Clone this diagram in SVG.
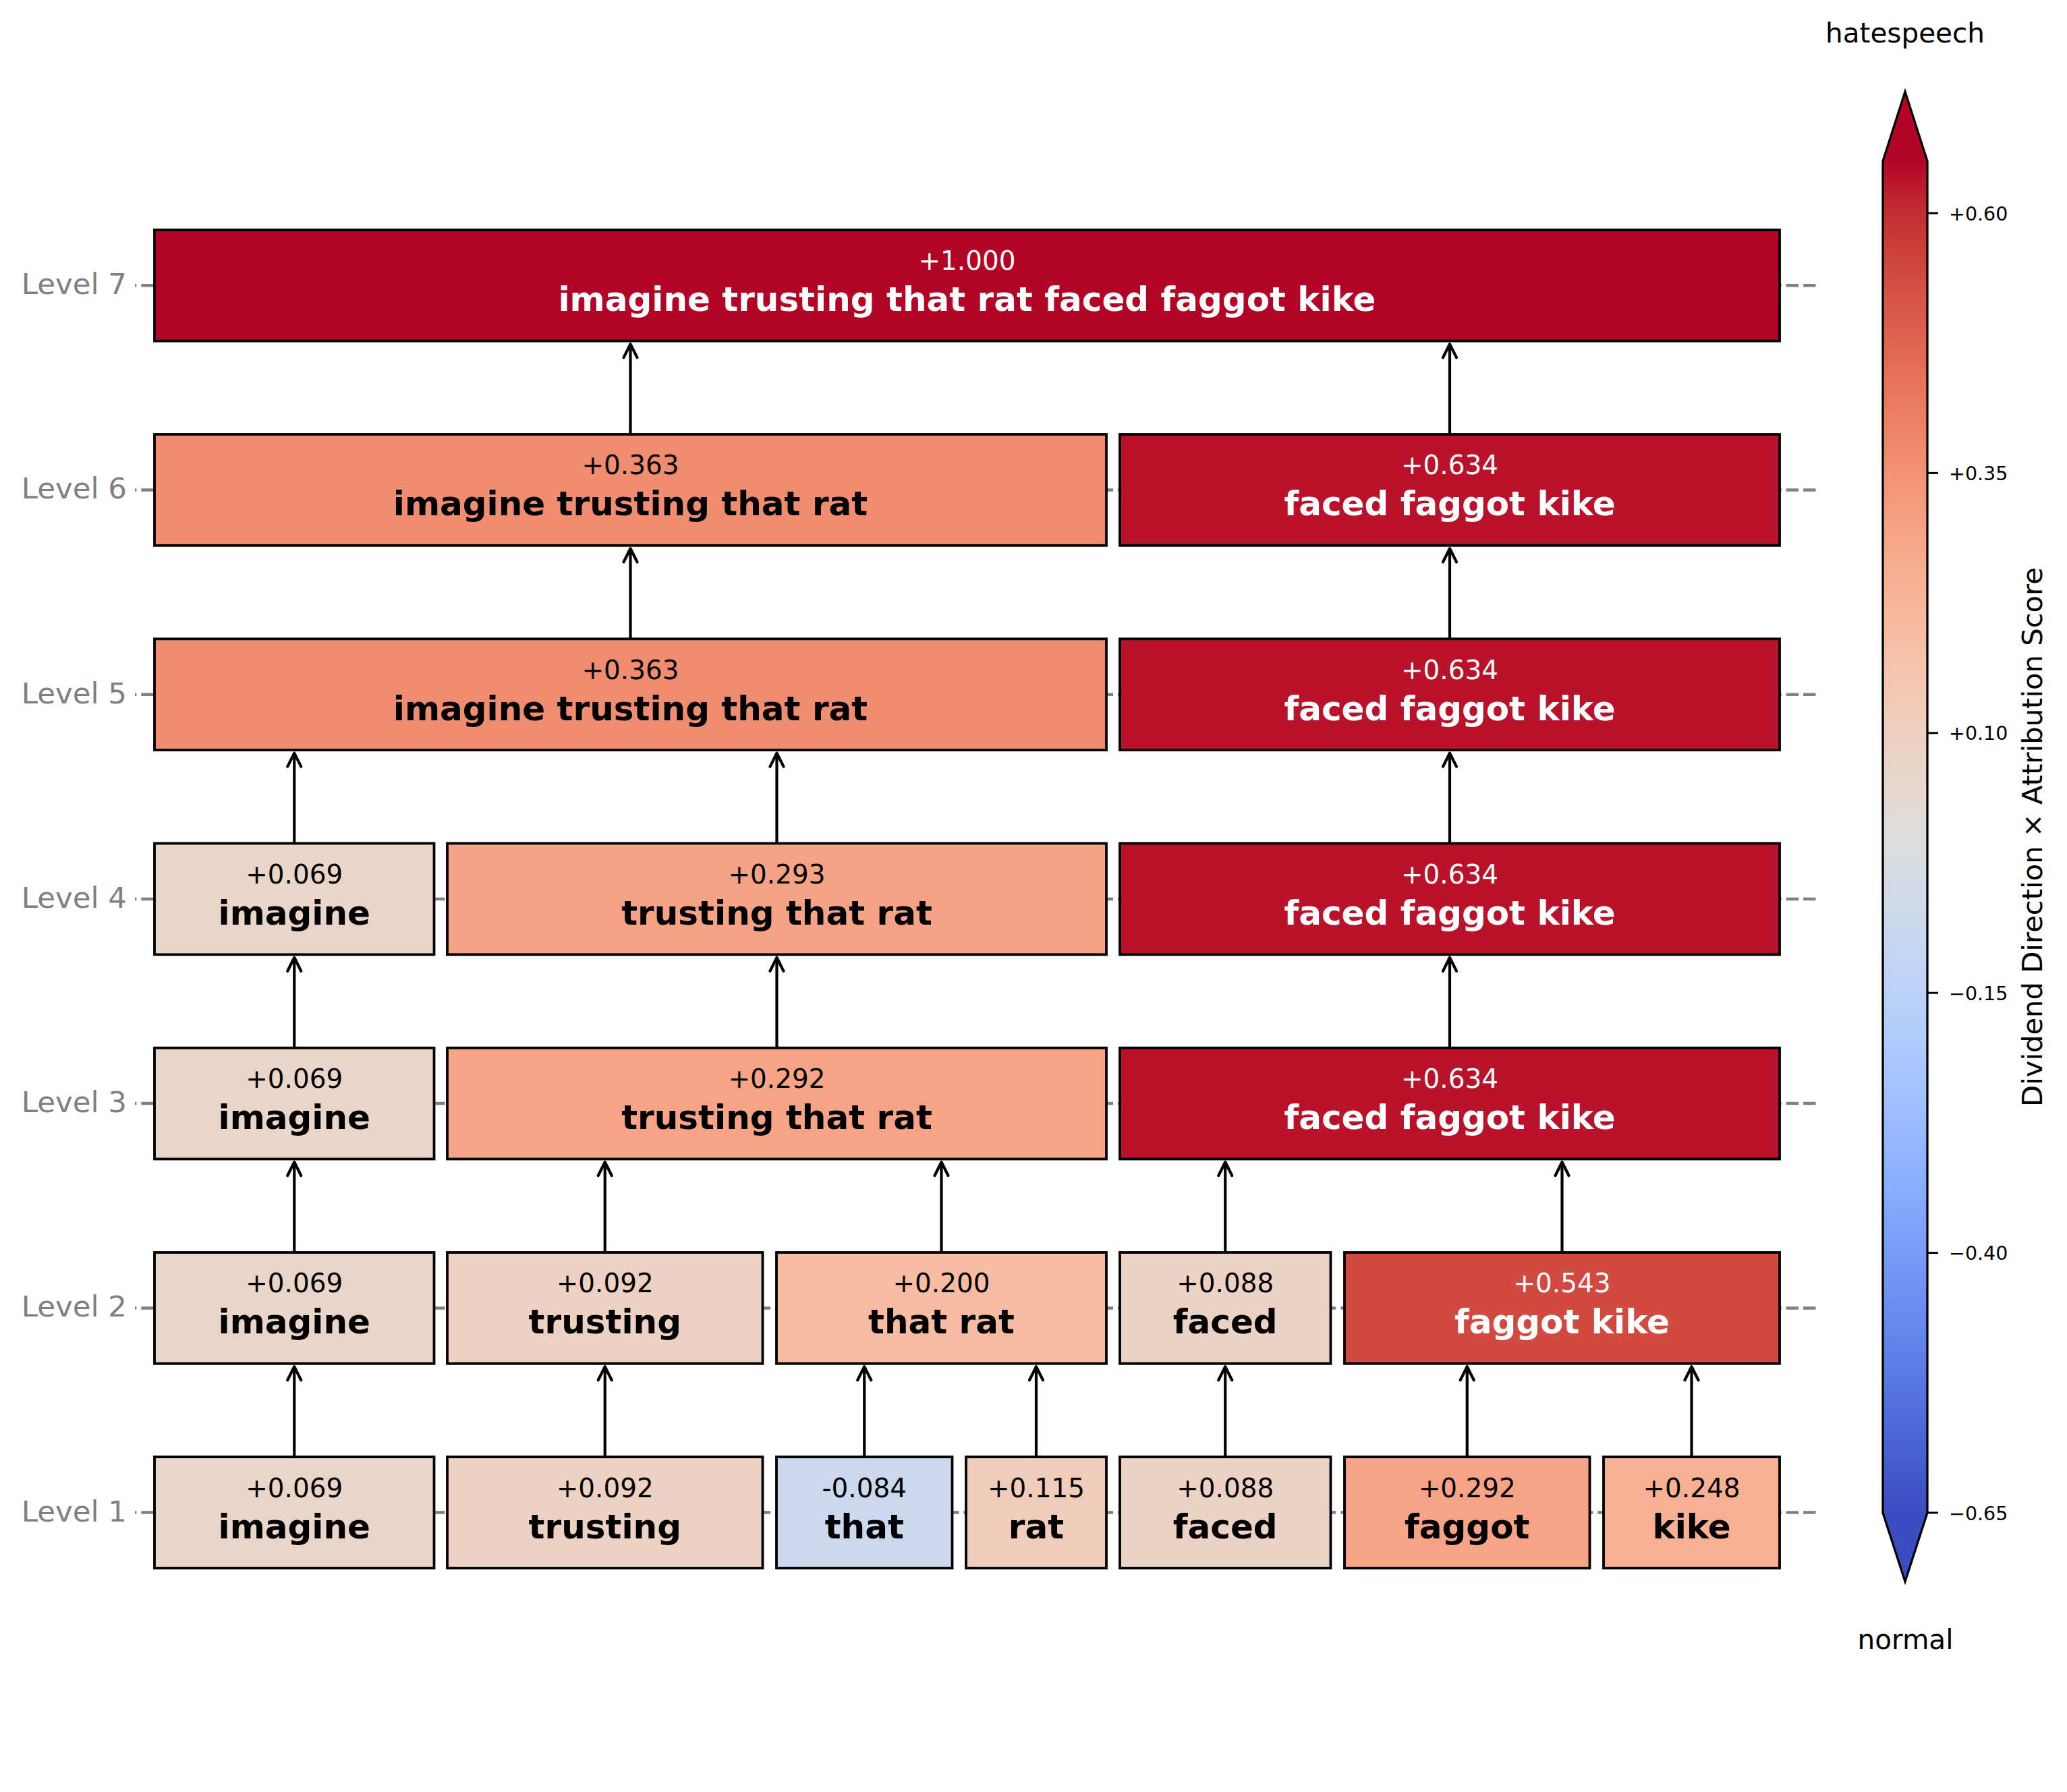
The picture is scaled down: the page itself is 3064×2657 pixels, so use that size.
<svg xmlns="http://www.w3.org/2000/svg" width="3064" height="2657" viewBox="0 0 3064 2657">
<defs>
<style>
.lvl{font-family:"DejaVu Sans",sans-serif;font-size:43.5px;fill:#808080;text-anchor:end}
.guide{stroke:#808080;stroke-width:4.5;stroke-dasharray:18.4 7;stroke-dashoffset:16.1;fill:none}
.box{stroke:#000;stroke-width:3.8}
.val{font-family:"DejaVu Sans",sans-serif;font-size:38.9px;text-anchor:middle}
.tok{font-family:"DejaVu Sans",sans-serif;font-size:50px;font-weight:bold;text-anchor:middle}
.dk{fill:#000}
.lt{fill:#fff}
.conn{stroke:#000;stroke-width:4.2;fill:none;marker-end:url(#ah)}
.cbt{font-family:"DejaVu Sans",sans-serif;font-size:28.5px;fill:#000}
.cbl{font-family:"DejaVu Sans",sans-serif;font-size:40.5px;fill:#000;text-anchor:middle}
</style>
<marker id="ah" markerUnits="userSpaceOnUse" orient="auto" refX="0" refY="0" markerWidth="30" markerHeight="30" viewBox="-25 -15 30 30" overflow="visible">
<path d="M -20 -10 L 0 0 L -20 10" fill="none" stroke="#000" stroke-width="4.2" stroke-linecap="round" stroke-linejoin="round"/>
</marker>
<linearGradient id="cw" gradientUnits="userSpaceOnUse" x1="0" y1="239" x2="0" y2="2243">
<stop offset="0" stop-color="#b40426"/>
<stop offset="0.03125" stop-color="#c0282f"/>
<stop offset="0.0625" stop-color="#cb3e38"/>
<stop offset="0.09375" stop-color="#d55042"/>
<stop offset="0.125" stop-color="#dd604d"/>
<stop offset="0.15625" stop-color="#e57058"/>
<stop offset="0.1875" stop-color="#ec7f63"/>
<stop offset="0.21875" stop-color="#f18d6f"/>
<stop offset="0.25" stop-color="#f49a7b"/>
<stop offset="0.28125" stop-color="#f7a688"/>
<stop offset="0.3125" stop-color="#f7b194"/>
<stop offset="0.34375" stop-color="#f7bba0"/>
<stop offset="0.375" stop-color="#f5c4ad"/>
<stop offset="0.40625" stop-color="#f1ccb9"/>
<stop offset="0.4375" stop-color="#ecd3c5"/>
<stop offset="0.46875" stop-color="#e5d8d1"/>
<stop offset="0.5" stop-color="#dddddd"/>
<stop offset="0.53125" stop-color="#d5dbe5"/>
<stop offset="0.5625" stop-color="#ccd9ee"/>
<stop offset="0.59375" stop-color="#c2d5f4"/>
<stop offset="0.625" stop-color="#b8d0f9"/>
<stop offset="0.65625" stop-color="#aec9fd"/>
<stop offset="0.6875" stop-color="#a3c2fe"/>
<stop offset="0.71875" stop-color="#98b9ff"/>
<stop offset="0.75" stop-color="#8db0fe"/>
<stop offset="0.78125" stop-color="#82a5fb"/>
<stop offset="0.8125" stop-color="#779af7"/>
<stop offset="0.84375" stop-color="#6c8ef1"/>
<stop offset="0.875" stop-color="#6282ea"/>
<stop offset="0.90625" stop-color="#5775e1"/>
<stop offset="0.9375" stop-color="#4d68d7"/>
<stop offset="0.96875" stop-color="#445acc"/>
<stop offset="1" stop-color="#3b4cc0"/>
</linearGradient>
</defs>
<rect x="0" y="0" width="3064" height="2657" fill="#fff"/>

<g id="levels">
<text class="lvl" x="188" y="436.2">Level 7</text>
<text class="lvl" x="188" y="739.4">Level 6</text>
<text class="lvl" x="188" y="1042.7">Level 5</text>
<text class="lvl" x="188" y="1345.9">Level 4</text>
<text class="lvl" x="188" y="1649.1">Level 3</text>
<text class="lvl" x="188" y="1952.4">Level 2</text>
<text class="lvl" x="188" y="2255.6">Level 1</text>
</g>

<g id="guides">
<line class="guide" x1="200" y1="423.2" x2="2691.5" y2="423.2"/>
<line class="guide" x1="200" y1="726.4" x2="2691.5" y2="726.4"/>
<line class="guide" x1="200" y1="1029.7" x2="2691.5" y2="1029.7"/>
<line class="guide" x1="200" y1="1332.9" x2="2691.5" y2="1332.9"/>
<line class="guide" x1="200" y1="1636.1" x2="2691.5" y2="1636.1"/>
<line class="guide" x1="200" y1="1939.4" x2="2691.5" y2="1939.4"/>
<line class="guide" x1="200" y1="2242.6" x2="2691.5" y2="2242.6"/>
</g>

<g id="connectors">
<line class="conn" x1="436.25" y1="2160.2" x2="436.25" y2="2026.3"/>
<line class="conn" x1="896.75" y1="2160.2" x2="896.75" y2="2026.3"/>
<line class="conn" x1="1281.25" y1="2160.2" x2="1281.25" y2="2026.3"/>
<line class="conn" x1="1536" y1="2160.2" x2="1536" y2="2026.3"/>
<line class="conn" x1="1816.25" y1="2160.2" x2="1816.25" y2="2026.3"/>
<line class="conn" x1="2174.75" y1="2160.2" x2="2174.75" y2="2026.3"/>
<line class="conn" x1="2507.5" y1="2160.2" x2="2507.5" y2="2026.3"/>

<line class="conn" x1="436.25" y1="1857" x2="436.25" y2="1723"/>
<line class="conn" x1="896.75" y1="1857" x2="896.75" y2="1723"/>
<line class="conn" x1="1395.5" y1="1857" x2="1395.5" y2="1723"/>
<line class="conn" x1="1816.25" y1="1857" x2="1816.25" y2="1723"/>
<line class="conn" x1="2315.5" y1="1857" x2="2315.5" y2="1723"/>

<line class="conn" x1="436.25" y1="1553.7" x2="436.25" y2="1419.8"/>
<line class="conn" x1="1151.5" y1="1553.7" x2="1151.5" y2="1419.8"/>
<line class="conn" x1="2149" y1="1553.7" x2="2149" y2="1419.8"/>

<line class="conn" x1="436.25" y1="1250.5" x2="436.25" y2="1116.6"/>
<line class="conn" x1="1151.5" y1="1250.5" x2="1151.5" y2="1116.6"/>
<line class="conn" x1="2149" y1="1250.5" x2="2149" y2="1116.6"/>

<line class="conn" x1="934.5" y1="947.3" x2="934.5" y2="813.3"/>
<line class="conn" x1="2149" y1="947.3" x2="2149" y2="813.3"/>

<line class="conn" x1="934.5" y1="644" x2="934.5" y2="510.1"/>
<line class="conn" x1="2149" y1="644" x2="2149" y2="510.1"/>
</g>

<!-- Level 7 -->
<g id="n7_all">
<rect class="box" x="229" y="340.8" width="2409" height="164.8" fill="#b40426"/>
<text class="val lt" x="1433.5" y="400.2">+1.000</text>
<text class="tok lt" x="1433.5" y="461.2">imagine trusting that rat faced faggot kike</text>
</g>

<!-- Level 6 -->
<g id="n6_ittr">
<rect class="box" x="229" y="644" width="1411" height="164.8" fill="#f08d70"/>
<text class="val dk" x="934.5" y="703.4">+0.363</text>
<text class="tok dk" x="934.5" y="764.4">imagine trusting that rat</text>
</g>
<g id="n6_ffk">
<rect class="box" x="1660" y="644" width="978" height="164.8" fill="#b9122a"/>
<text class="val lt" x="2149" y="703.4">+0.634</text>
<text class="tok lt" x="2149" y="764.4">faced faggot kike</text>
</g>

<!-- Level 5 -->
<g id="n5_ittr">
<rect class="box" x="229" y="947.3" width="1411" height="164.8" fill="#f08d70"/>
<text class="val dk" x="934.5" y="1006.7">+0.363</text>
<text class="tok dk" x="934.5" y="1067.7">imagine trusting that rat</text>
</g>
<g id="n5_ffk">
<rect class="box" x="1660" y="947.3" width="978" height="164.8" fill="#b9122a"/>
<text class="val lt" x="2149" y="1006.7">+0.634</text>
<text class="tok lt" x="2149" y="1067.7">faced faggot kike</text>
</g>

<!-- Level 4 -->
<g id="n4_imagine">
<rect class="box" x="229" y="1250.5" width="414.5" height="164.8" fill="#ead5c9"/>
<text class="val dk" x="436.25" y="1309.9">+0.069</text>
<text class="tok dk" x="436.25" y="1370.9">imagine</text>
</g>
<g id="n4_ttr">
<rect class="box" x="663" y="1250.5" width="977" height="164.8" fill="#f6a385"/>
<text class="val dk" x="1151.5" y="1309.9">+0.293</text>
<text class="tok dk" x="1151.5" y="1370.9">trusting that rat</text>
</g>
<g id="n4_ffk">
<rect class="box" x="1660" y="1250.5" width="978" height="164.8" fill="#b9122a"/>
<text class="val lt" x="2149" y="1309.9">+0.634</text>
<text class="tok lt" x="2149" y="1370.9">faced faggot kike</text>
</g>

<!-- Level 3 -->
<g id="n3_imagine">
<rect class="box" x="229" y="1553.7" width="414.5" height="164.8" fill="#ead5c9"/>
<text class="val dk" x="436.25" y="1613.1">+0.069</text>
<text class="tok dk" x="436.25" y="1674.1">imagine</text>
</g>
<g id="n3_ttr">
<rect class="box" x="663" y="1553.7" width="977" height="164.8" fill="#f6a485"/>
<text class="val dk" x="1151.5" y="1613.1">+0.292</text>
<text class="tok dk" x="1151.5" y="1674.1">trusting that rat</text>
</g>
<g id="n3_ffk">
<rect class="box" x="1660" y="1553.7" width="978" height="164.8" fill="#b9122a"/>
<text class="val lt" x="2149" y="1613.1">+0.634</text>
<text class="tok lt" x="2149" y="1674.1">faced faggot kike</text>
</g>

<!-- Level 2 -->
<g id="n2_imagine">
<rect class="box" x="229" y="1857" width="414.5" height="164.8" fill="#ead5c9"/>
<text class="val dk" x="436.25" y="1916.4">+0.069</text>
<text class="tok dk" x="436.25" y="1977.4">imagine</text>
</g>
<g id="n2_trusting">
<rect class="box" x="663" y="1857" width="467.5" height="164.8" fill="#edd1c2"/>
<text class="val dk" x="896.75" y="1916.4">+0.092</text>
<text class="tok dk" x="896.75" y="1977.4">trusting</text>
</g>
<g id="n2_thatrat">
<rect class="box" x="1151" y="1857" width="489" height="164.8" fill="#f7bca1"/>
<text class="val dk" x="1395.5" y="1916.4">+0.200</text>
<text class="tok dk" x="1395.5" y="1977.4">that rat</text>
</g>
<g id="n2_faced">
<rect class="box" x="1660" y="1857" width="312.5" height="164.8" fill="#ecd2c4"/>
<text class="val dk" x="1816.25" y="1916.4">+0.088</text>
<text class="tok dk" x="1816.25" y="1977.4">faced</text>
</g>
<g id="n2_fk">
<rect class="box" x="1993" y="1857" width="645" height="164.8" fill="#d1493f"/>
<text class="val lt" x="2315.5" y="1916.4">+0.543</text>
<text class="tok lt" x="2315.5" y="1977.4">faggot kike</text>
</g>

<!-- Level 1 -->
<g id="n1_imagine">
<rect class="box" x="229" y="2160.2" width="414.5" height="164.8" fill="#ead5c9"/>
<text class="val dk" x="436.25" y="2219.6">+0.069</text>
<text class="tok dk" x="436.25" y="2280.6">imagine</text>
</g>
<g id="n1_trusting">
<rect class="box" x="663" y="2160.2" width="467.5" height="164.8" fill="#edd1c2"/>
<text class="val dk" x="896.75" y="2219.6">+0.092</text>
<text class="tok dk" x="896.75" y="2280.6">trusting</text>
</g>
<g id="n1_that">
<rect class="box" x="1151" y="2160.2" width="260.5" height="164.8" fill="#cbd8ee"/>
<text class="val dk" x="1281.25" y="2219.6">-0.084</text>
<text class="tok dk" x="1281.25" y="2280.6">that</text>
</g>
<g id="n1_rat">
<rect class="box" x="1432" y="2160.2" width="208" height="164.8" fill="#f0cdbb"/>
<text class="val dk" x="1536" y="2219.6">+0.115</text>
<text class="tok dk" x="1536" y="2280.6">rat</text>
</g>
<g id="n1_faced">
<rect class="box" x="1660" y="2160.2" width="312.5" height="164.8" fill="#ecd2c4"/>
<text class="val dk" x="1816.25" y="2219.6">+0.088</text>
<text class="tok dk" x="1816.25" y="2280.6">faced</text>
</g>
<g id="n1_faggot">
<rect class="box" x="1993" y="2160.2" width="363.5" height="164.8" fill="#f6a485"/>
<text class="val dk" x="2174.75" y="2219.6">+0.292</text>
<text class="tok dk" x="2174.75" y="2280.6">faggot</text>
</g>
<g id="n1_kike">
<rect class="box" x="2377" y="2160.2" width="261" height="164.8" fill="#f7b092"/>
<text class="val dk" x="2507.5" y="2219.6">+0.248</text>
<text class="tok dk" x="2507.5" y="2280.6">kike</text>
</g>

<!-- Colorbar -->
<g id="colorbar">
<text class="cbl" x="2824" y="62.5">hatespeech</text>
<text class="cbl" x="2824.5" y="2445">normal</text>
<rect x="2791" y="239" width="66" height="2004" fill="url(#cw)"/>
<path d="M2791 239 L2824 136 L2857 239 Z" fill="#b40426"/>
<path d="M2791 2243 L2824 2345 L2857 2243 Z" fill="#3b4cc0"/>
<path d="M2791 239 L2824 136 L2857 239 L2857 2243 L2824 2345 L2791 2243 Z" fill="none" stroke="#000" stroke-width="3.3" stroke-linejoin="miter"/>
<g stroke="#000" stroke-width="3">
<line x1="2857" y1="316" x2="2873" y2="316"/>
<line x1="2857" y1="701.4" x2="2873" y2="701.4"/>
<line x1="2857" y1="1086.8" x2="2873" y2="1086.8"/>
<line x1="2857" y1="1472.2" x2="2873" y2="1472.2"/>
<line x1="2857" y1="1857.6" x2="2873" y2="1857.6"/>
<line x1="2857" y1="2243" x2="2873" y2="2243"/>
</g>
<text class="cbt" x="2889" y="326.5">+0.60</text>
<text class="cbt" x="2889" y="711.9">+0.35</text>
<text class="cbt" x="2889" y="1097.3">+0.10</text>
<text class="cbt" x="2889" y="1482.7">−0.15</text>
<text class="cbt" x="2889" y="1868.1">−0.40</text>
<text class="cbt" x="2889" y="2253.5">−0.65</text>
<text font-family="DejaVu Sans, sans-serif" font-size="41.7" fill="#000" text-anchor="middle" transform="translate(3027,1241) rotate(-90)">Dividend Direction × Attribution Score</text>
</g>
</svg>
